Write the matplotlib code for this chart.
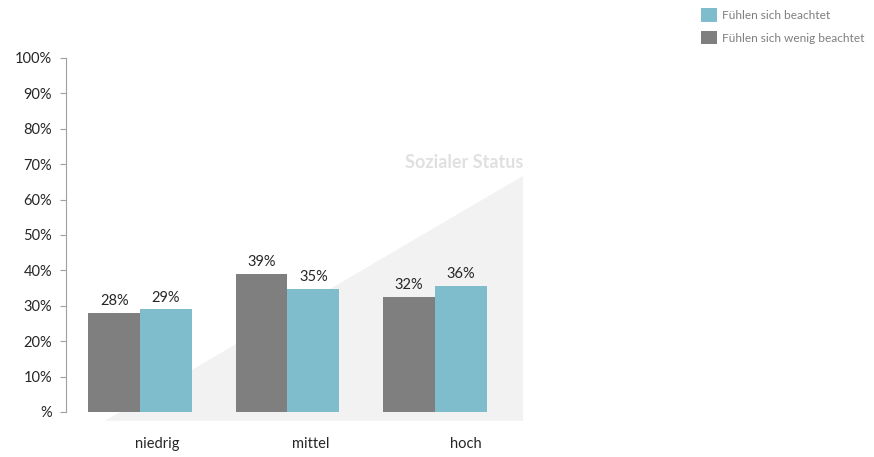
import matplotlib
matplotlib.use('Agg')
import matplotlib.pyplot as plt
import numpy as np
from matplotlib.patches import Polygon

categories = ['niedrig', 'mittel', 'hoch']
wenig_beachtet = [28, 39, 32.5]
beachtet = [29, 34.8, 35.6]
value_labels_wenig = ['28%', '39%', '32%']
value_labels_beachtet = ['29%', '35%', '36%']
y_ticks = [0, 10, 20, 30, 40, 50, 60, 70, 80, 90, 100]
y_tick_labels = ['%', '10%', '20%', '30%', '40%', '50%', '60%', '70%', '80%', '90%', '100%']

GRAY = '#7f7f7f'
BLUE = '#7fbdcc'
TEXT = '#262626'

plt.rcParams['font.family'] = ['Lato', 'DejaVu Sans']

fig = plt.figure(figsize=(8.74, 4.57), dpi=100)
ax = fig.add_axes([0.0755, 0.0985, 0.5309, 0.7746])

x = np.arange(len(categories))
w = 0.35

# background triangle "Sozialer Status"
tri = Polygon([(-0.237, -2.5), (2.597, 66.7), (2.597, -2.5)], closed=True,
              facecolor='#f2f2f2', edgecolor='none', clip_on=False, zorder=0)
ax.add_patch(tri)
ax.text(2.597, 70.5, 'Sozialer Status', ha='right', va='center', fontsize=13,
        fontweight='bold', color='#e0e0e0', zorder=1)

b1 = ax.bar(x - w / 2, wenig_beachtet, w, color=GRAY, zorder=2,
            label='Fühlen sich wenig beachtet')
b2 = ax.bar(x + w / 2, beachtet, w, color=BLUE, zorder=2,
            label='Fühlen sich beachtet')

for xi, v, s in zip(x - w / 2, wenig_beachtet, value_labels_wenig):
    ax.text(xi, v + 1.3, s, ha='center', va='bottom', fontsize=10.5, color=TEXT)
for xi, v, s in zip(x + w / 2, beachtet, value_labels_beachtet):
    ax.text(xi, v + 1.3, s, ha='center', va='bottom', fontsize=10.5, color=TEXT)

ax.set_xlim(-0.5017, 2.644)
ax.set_ylim(0, 100)
ax.set_yticks(y_ticks)
ax.set_yticklabels(y_tick_labels, fontsize=10.5, color=TEXT)
ax.tick_params(axis='y', length=4, color='#a0a0a0', pad=6)

# category labels sit a bit right of the group centres
ax.set_xticks(x + np.array([0.115, 0.16, 0.21]))
ax.set_xticklabels(categories, fontsize=10.5, color=TEXT)
ax.tick_params(axis='x', length=0, pad=18)

for side in ['top', 'right', 'bottom']:
    ax.spines[side].set_visible(False)
ax.spines['left'].set_color('#a0a0a0')
ax.set_facecolor('none')

fig.legend(handles=[b2, b1], loc='upper left', bbox_to_anchor=(0.79, 1.005),
           frameon=False, fontsize=8.6, labelcolor='#7f7f7f', handlelength=1.35,
           handleheight=1.35, handletextpad=0.35, labelspacing=0.75)

fig.savefig('out.png', dpi=100)
